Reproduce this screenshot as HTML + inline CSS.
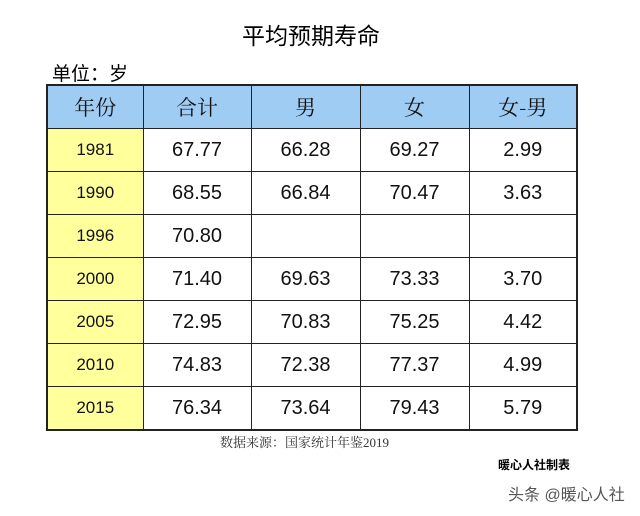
<!DOCTYPE html>
<html><head><meta charset="utf-8"><style>
body{margin:0;width:640px;height:516px;background:#fff;position:relative;overflow:hidden;font-family:"Liberation Sans","Noto Sans CJK SC",sans-serif;}
.t{position:absolute;white-space:nowrap;color:#000}
table{position:absolute;left:46px;top:84px;border-collapse:collapse;}
td{border:1px solid #222;text-align:center;height:42px;padding:0;font-size:20px;color:#111}
tr:first-child td{background:#9fccf2;font-family:"Noto Serif CJK SC","Liberation Serif",serif;font-size:21px;height:42px}
td.y{background:#ffff9c;font-size:17px}
table{border:2px solid #222}
</style></head><body>
<div class="t" style="left:242px;top:17px;font-size:23px;">平均预期寿命</div>
<div class="t" style="left:52px;top:59px;font-size:19px;">单位：岁</div>
<table>
<colgroup><col style="width:96px"><col style="width:108px"><col style="width:109px"><col style="width:109px"><col style="width:108px"></colgroup>
<tr><td>年份</td><td>合计</td><td>男</td><td>女</td><td>女-男</td></tr>
<tr><td class="y">1981</td><td>67.77</td><td>66.28</td><td>69.27</td><td>2.99</td></tr>
<tr><td class="y">1990</td><td>68.55</td><td>66.84</td><td>70.47</td><td>3.63</td></tr>
<tr><td class="y">1996</td><td>70.80</td><td></td><td></td><td></td></tr>
<tr><td class="y">2000</td><td>71.40</td><td>69.63</td><td>73.33</td><td>3.70</td></tr>
<tr><td class="y">2005</td><td>72.95</td><td>70.83</td><td>75.25</td><td>4.42</td></tr>
<tr><td class="y">2010</td><td>74.83</td><td>72.38</td><td>77.37</td><td>4.99</td></tr>
<tr><td class="y">2015</td><td>76.34</td><td>73.64</td><td>79.43</td><td>5.79</td></tr>
</table>
<div class="t" style="left:220px;top:432px;font-size:13px;color:#333;font-family:'Liberation Serif','Noto Serif CJK SC',serif;">数据来源：国家统计年鉴2019</div>
<div class="t" style="left:498px;top:456px;font-size:12px;font-weight:bold;">暖心人社制表</div>
<div class="t" style="left:508px;top:481px;font-size:16px;color:#555;">头条 @暖心人社</div>
</body></html>
